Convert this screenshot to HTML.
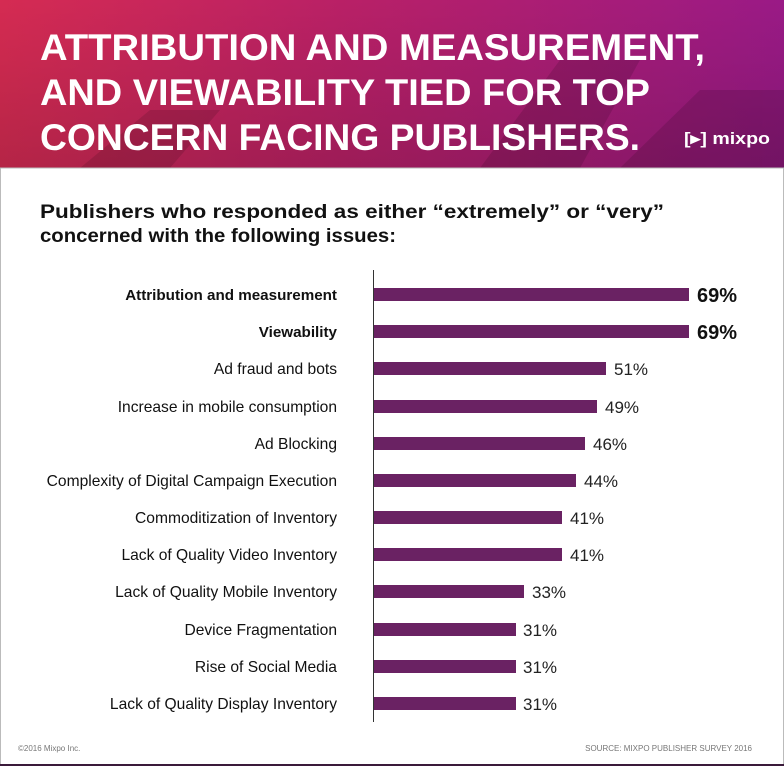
<!DOCTYPE html>
<html><head><meta charset="utf-8"><style>
html,body{margin:0;padding:0;background:#fff}
svg{display:block}
</style></head><body>
<svg width="784" height="766" viewBox="0 0 784 766" xmlns="http://www.w3.org/2000/svg" font-family="Liberation Sans, sans-serif">
<defs>
<linearGradient id="g" x1="0" y1="0" x2="1" y2="0">
<stop offset="0" stop-color="#d52b52"/>
<stop offset="0.45" stop-color="#b82067"/>
<stop offset="1" stop-color="#9a1a86"/>
</linearGradient>
<linearGradient id="sh" x1="0" y1="0" x2="0" y2="1">
<stop offset="0" stop-color="#000" stop-opacity="0"/>
<stop offset="1" stop-color="#000" stop-opacity="0.15"/>
</linearGradient>
</defs>
<rect x="0" y="0" width="784" height="766" fill="#fff"/>
<rect x="0" y="0" width="784" height="168" fill="url(#g)"/>
<rect x="0" y="0" width="784" height="168" fill="url(#sh)"/>
<g fill="#000" opacity="0.12">
<polygon points="480,168 560,60 640,60 580,168"/>
<polygon points="620,168 700,90 784,90 784,168"/>
<polygon points="80,168 150,110 220,110 170,168"/>
</g>
<g fill="#fff" font-weight="bold" font-size="37">
<text x="40" y="60" textLength="665" lengthAdjust="spacingAndGlyphs">ATTRIBUTION AND MEASUREMENT,</text>
<text x="40" y="105" textLength="610" lengthAdjust="spacingAndGlyphs">AND VIEWABILITY TIED FOR TOP</text>
<text x="40" y="150" textLength="600" lengthAdjust="spacingAndGlyphs">CONCERN FACING PUBLISHERS.</text>
<text x="684" y="144" font-size="17" textLength="86" lengthAdjust="spacingAndGlyphs">[▸] mixpo</text>
</g>
<rect x="0.5" y="168" width="783" height="597" fill="none" stroke="#bbb" stroke-width="1"/>
<rect x="0" y="764" width="784" height="2" fill="#3a1a3a"/>
<g fill="#111" font-size="19" font-weight="bold">
<text x="40" y="218" textLength="624" lengthAdjust="spacingAndGlyphs">Publishers who responded as either “extremely” or “very”</text>
<text x="40" y="242" textLength="356" lengthAdjust="spacingAndGlyphs">concerned with the following issues:</text>
</g>
<line x1="373.5" y1="270" x2="373.5" y2="722" stroke="#333" stroke-width="1"/>
<g fill="#6a2263">
<rect x="374" y="288" width="315" height="13"/>
<rect x="374" y="325" width="315" height="13"/>
<rect x="374" y="362" width="232" height="13"/>
<rect x="374" y="400" width="223" height="13"/>
<rect x="374" y="437" width="211" height="13"/>
<rect x="374" y="474" width="202" height="13"/>
<rect x="374" y="511" width="188" height="13"/>
<rect x="374" y="548" width="188" height="13"/>
<rect x="374" y="585" width="150" height="13"/>
<rect x="374" y="623" width="142" height="13"/>
<rect x="374" y="660" width="142" height="13"/>
<rect x="374" y="697" width="142" height="13"/>
</g>
<g font-size="15.6" fill="#111" text-anchor="end">
<text x="337" y="300" font-weight="bold" font-size="15.2">Attribution and measurement</text>
<text x="337" y="337" font-weight="bold" font-size="15.2">Viewability</text>
<text x="337" y="374">Ad fraud and bots</text>
<text x="337" y="412">Increase in mobile consumption</text>
<text x="337" y="449">Ad Blocking</text>
<text x="337" y="486">Complexity of Digital Campaign Execution</text>
<text x="337" y="523">Commoditization of Inventory</text>
<text x="337" y="560">Lack of Quality Video Inventory</text>
<text x="337" y="597">Lack of Quality Mobile Inventory</text>
<text x="337" y="635">Device Fragmentation</text>
<text x="337" y="672">Rise of Social Media</text>
<text x="337" y="709">Lack of Quality Display Inventory</text>
</g>
<g font-size="17" fill="#222">
<text x="697" y="302" font-size="20" font-weight="bold" fill="#111">69%</text>
<text x="697" y="339" font-size="20" font-weight="bold" fill="#111">69%</text>
<text x="614" y="375">51%</text>
<text x="605" y="413">49%</text>
<text x="593" y="450">46%</text>
<text x="584" y="487">44%</text>
<text x="570" y="524">41%</text>
<text x="570" y="561">41%</text>
<text x="532" y="598">33%</text>
<text x="523" y="636">31%</text>
<text x="523" y="673">31%</text>
<text x="523" y="710">31%</text>
</g>
<g font-size="8" fill="#777">
<text x="18" y="751">©2016 Mixpo Inc.</text>
<text x="752" y="751" text-anchor="end">SOURCE: MIXPO PUBLISHER SURVEY 2016</text>
</g>
</svg>
</body></html>
